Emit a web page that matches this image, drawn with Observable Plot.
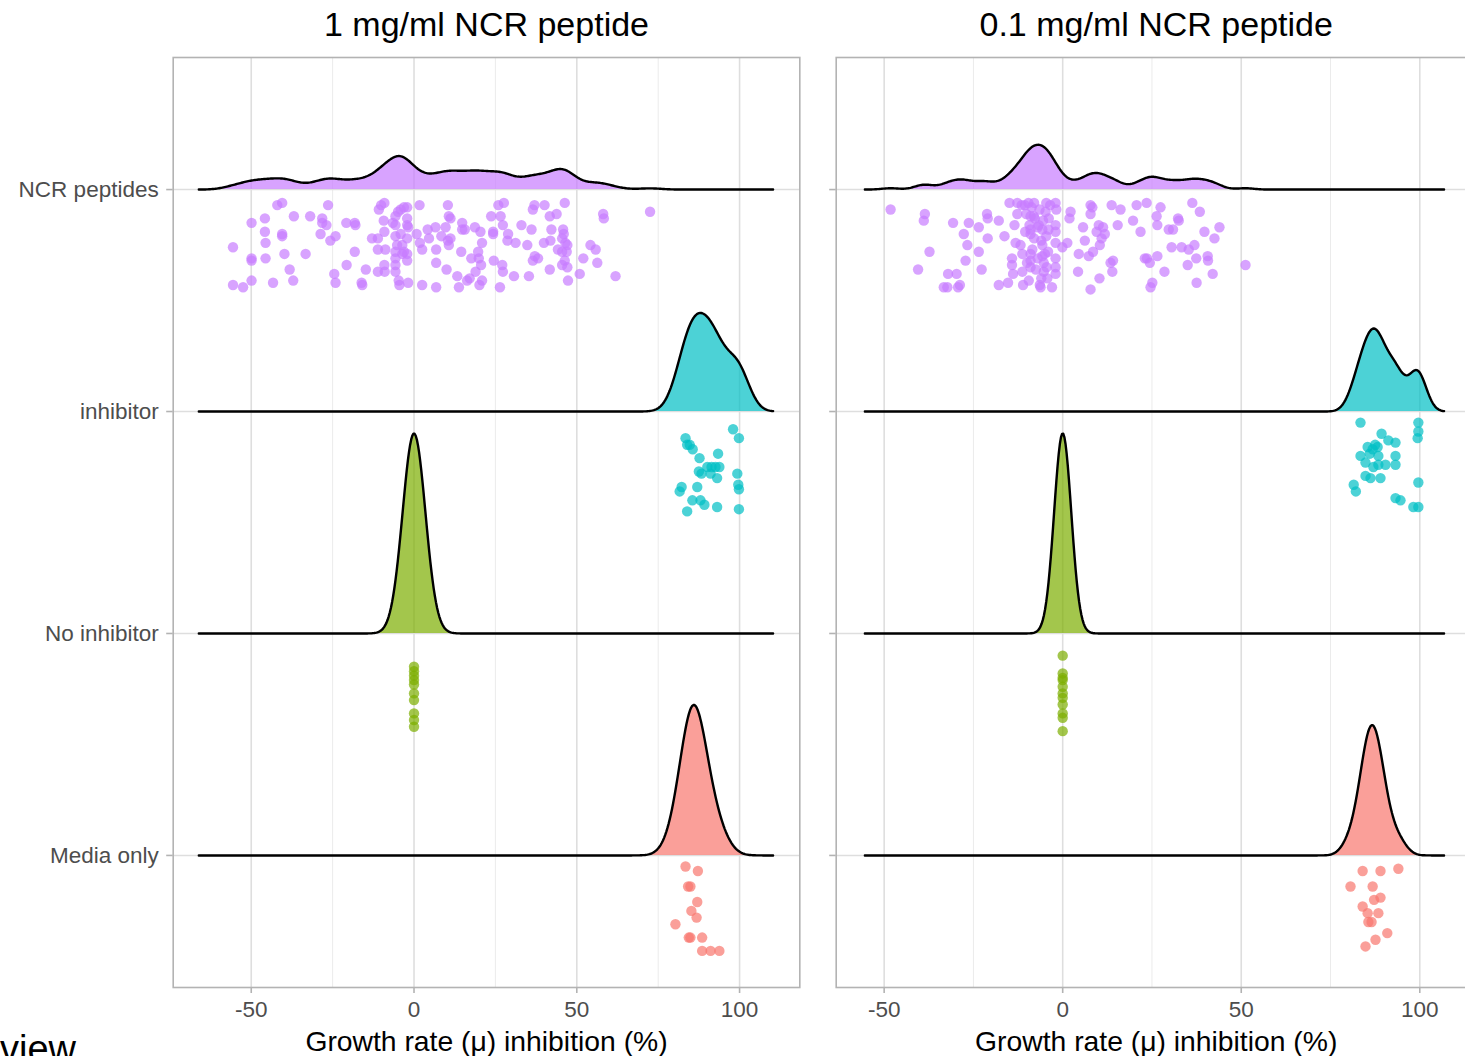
<!DOCTYPE html>
<html><head><meta charset="utf-8">
<script src="https://cdn.jsdelivr.net/npm/d3@7"></script>
<script src="https://cdn.jsdelivr.net/npm/@observablehq/plot@0.6"></script>
<style>
body{margin:0;background:#fff;}
#wrap{position:relative;width:1465px;height:1056px;overflow:hidden;font-family:"Liberation Sans",Arial,sans-serif;background:#fff;}
.panel{position:absolute;top:0;}
#view{position:absolute;left:0;top:1030px;font-size:38px;line-height:38px;color:#000;}
</style></head>
<body><div id="wrap"><div id="view">view</div></div>
<script>
// ---------- categories / labels ----------
const categories = ["Media only", "No inhibitor", "inhibitor", "NCR peptides"];
const colors = ["#F8766D", "#7CAE00", "#00BFC4", "#C77CFF"];
const panelTitles = ["1 mg/ml NCR peptide", "0.1 mg/ml NCR peptide"];
const xTitle = ["Growth rate (", "\u03bc", ") inhibition (%)"];
const xTicks = [-50, 0, 50, 100];
const xMinorTicks = [-25, 25, 75];

// ---------- data: [inhibition %, jitter below ridge baseline] ----------
// Panel 1: 1 mg/ml
const ncr1 = [[-55.6,.26],[-55.6,.43],[-52.5,.44],[-49.9,.15],[-49.9,.31],[-49.9,.32],[-49.9,.41],[-45.8,.13],[-45.8,.19],[-45.6,.24],[-45.6,.31],[-43.3,.42],[-42.0,.07],[-40.5,.06],[-40.5,.20],[-40.5,.21],[-39.8,.29],[-38.2,.36],[-37.1,.41],[-36.9,.12],[-33.3,.29],[-31.9,.12],[-28.7,.20],[-28.2,.13],[-28.2,.15],[-26.9,.16],[-26.4,.07],[-25.7,.23],[-24.1,.21],[-24.5,.38],[-24.1,.42],[-20.8,.15],[-20.7,.34],[-18.2,.15],[-18.0,.16],[-18.2,.28],[-16.1,.42],[-15.9,.43],[-14.8,.36],[-12.9,.22],[-11.1,.22],[-11.1,.27],[-10.8,.09],[-10.1,.07],[-9.1,.06],[-9.3,.14],[-9.1,.19],[-8.8,.27],[-9.1,.34],[-9.0,.37],[-11.1,.37],[-6.5,.15],[-5.7,.12],[-5.7,.16],[-5.7,.21],[-5.7,.28],[-5.7,.31],[-5.7,.34],[-5.7,.37],[-4.9,.10],[-4.7,.41],[-4.5,.43],[-4.1,.09],[-3.1,.08],[-2.1,.08],[-2.1,.13],[-2.1,.16],[-1.8,.17],[-4.1,.20],[-3.6,.25],[-2.1,.22],[-3.1,.28],[-3.6,.29],[-2.1,.29],[-2.1,.32],[-1.8,.42],[-5.2,.25],[0.8,.20],[1.7,.07],[1.8,.24],[2.5,.27],[2.5,.43],[4.2,.18],[4.6,.22],[6.6,.17],[6.8,.27],[6.8,.33],[6.8,.44],[8.4,.21],[9.7,.17],[10.0,.36],[10.4,.07],[10.7,.12],[11.2,.13],[10.4,.23],[10.7,.25],[11.2,.22],[13.3,.39],[13.8,.44],[14.5,.28],[14.8,.15],[14.8,.18],[15.6,.18],[16.3,.41],[17.1,.40],[17.6,.31],[18.7,.17],[19.7,.28],[19.9,.31],[20.4,.19],[20.6,.34],[18.9,.37],[20.9,.24],[20.9,.41],[20.1,.43],[23.7,.12],[24.3,.19],[24.3,.20],[24.5,.32],[25.9,.07],[26.6,.12],[27.6,.06],[27.3,.16],[27.1,.34],[27.3,.37],[26.4,.44],[28.9,.20],[28.7,.23],[30.7,.39],[31.2,.24],[33.0,.16],[34.8,.25],[35.3,.39],[36.1,.18],[36.5,.09],[37.0,.07],[36.5,.32],[37.1,.30],[38.1,.31],[40.1,.07],[39.9,.24],[41.7,.12],[41.9,.23],[42.2,.18],[41.7,.36],[43.8,.11],[44.2,.27],[45.8,.18],[46.0,.20],[46.3,.06],[45.5,.22],[46.5,.24],[47.1,.25],[45.5,.28],[46.9,.28],[46.3,.32],[45.5,.34],[47.1,.35],[47.3,.41],[50.9,.38],[52.0,.31],[54.2,.25],[55.8,.27],[56.3,.33],[58.1,.11],[58.3,.13],[61.9,.39],[72.5,.10]];
const inh1 = [[98.0,.08],[99.8,.12],[83.4,.12],[83.9,.15],[84.7,.15],[85.6,.17],[87.7,.21],[93.4,.19],[90.1,.25],[91.4,.25],[92.6,.25],[93.8,.25],[87.5,.27],[88.3,.28],[91.1,.28],[93.1,.30],[99.3,.28],[82.2,.34],[81.6,.36],[87.0,.34],[99.6,.33],[99.8,.35],[85.5,.40],[88.0,.40],[89.2,.42],[83.9,.45],[93.1,.43],[99.8,.44]];
const noinh1 = [[0,.15],[0,.17],[0,.19],[0,.21],[0,.23],[0,.27],[0,.30],[0,.36],[0,.39],[0,.42]];
const media1 = [[83.4,.05],[87.2,.07],[84.2,.14],[84.9,.14],[87.0,.21],[85.2,.25],[86.8,.28],[80.3,.31],[84.4,.37],[84.9,.37],[88.5,.37],[88.5,.43],[91.1,.43],[93.8,.43]];
// Panel 2: 0.1 mg/ml
const ncr2 = [[-48.2,.09],[-40.5,.36],[-38.6,.11],[-38.9,.14],[-37.3,.28],[-33.3,.44],[-32.3,.44],[-32.1,.38],[-30.7,.15],[-29.7,.38],[-29.3,.44],[-28.8,.43],[-27.7,.20],[-27.2,.32],[-26.7,.25],[-26.3,.15],[-23.5,.17],[-23.5,.28],[-22.7,.36],[-21.2,.11],[-21.0,.13],[-21.0,.22],[-17.9,.14],[-17.9,.43],[-16.3,.21],[-15.3,.42],[-14.9,.06],[-14.2,.31],[-14.2,.34],[-13.9,.38],[-13.5,.16],[-13.2,.24],[-12.7,.06],[-12.7,.11],[-11.8,.25],[-11.3,.29],[-11.3,.37],[-11.1,.43],[-10.6,.07],[-10.2,.11],[-9.6,.06],[-9.3,.16],[-9.0,.18],[-9.0,.20],[-9.0,.29],[-9.0,.32],[-9.0,.35],[-8.7,.08],[-8.1,.12],[-7.8,.13],[-6.7,.16],[-6.4,.43],[-6.2,.44],[-5.7,.18],[-5.7,.25],[-5.7,.30],[-5.3,.33],[-5.3,.37],[-4.8,.10],[-4.6,.06],[-4.6,.21],[-4.3,.40],[-4.1,.28],[-3.9,.13],[-3.0,.44],[-2.0,.06],[-1.8,.09],[-2.0,.16],[-2.0,.19],[-2.0,.24],[-2.0,.31],[-2.0,.35],[-2.0,.38],[-0.1,.26],[1.3,.24],[1.9,.13],[2.2,.10],[4.3,.37],[4.5,.29],[5.7,.17],[6.2,.23],[7.3,.30],[7.8,.45],[7.8,.07],[8.3,.08],[7.8,.11],[8.5,.28],[9.5,.19],[10.1,.16],[10.3,.40],[10.4,.25],[11.3,.17],[11.8,.20],[10.9,.22],[13.4,.33],[13.7,.07],[13.9,.37],[14.1,.32],[15.4,.16],[16.2,.09],[19.7,.14],[20.7,.07],[21.8,.19],[23.0,.31],[23.6,.31],[24.4,.33],[23.5,.06],[25.1,.42],[24.6,.44],[26.3,.12],[26.5,.16],[26.5,.30],[27.4,.08],[28.5,.37],[29.7,.18],[30.9,.18],[30.5,.26],[32.3,.13],[32.5,.14],[33.3,.26],[35.0,.34],[35.3,.27],[36.3,.06],[36.9,.25],[37.4,.31],[37.5,.42],[38.4,.10],[39.7,.19],[40.6,.30],[40.7,.32],[42.0,.38],[42.5,.22],[43.9,.17],[51.2,.34],
  [-11.5,.07],[-10.5,.19],[-10.0,.33],[-9.5,.41],[-9.0,.12],[-8.5,.27],[-8.0,.06],[-8.0,.22],[-7.5,.36],[-7.0,.17],[-7.0,.31],[-6.5,.09],[-6.0,.23],[-6.0,.40],[-5.5,.14],[-5.0,.29],[-4.5,.35],[-4.0,.18],[-3.5,.07]];
const inh2 = [[83.4,.05],[99.6,.05],[99.6,.09],[99.4,.12],[89.3,.10],[91.2,.13],[85.4,.16],[86.8,.17],[88.2,.16],[93.2,.14],[83.4,.20],[88.4,.20],[93.2,.20],[84.8,.23],[88.4,.24],[90.4,.24],[93.2,.24],[84.8,.29],[86.2,.30],[89.0,.30],[81.5,.33],[99.6,.32],[82.1,.36],[93.2,.39],[94.6,.40],[98.2,.43],[99.6,.43],[86.0,.19],[87.0,.25],[87.5,.15]];
const noinh2 = [[0,.10],[0,.18],[0,.20],[0,.21],[0,.24],[0,.27],[0,.29],[0,.32],[0,.36],[0,.38],[0,.44]];
const media2 = [[84.0,.07],[89.0,.07],[94.0,.06],[80.6,.14],[86.8,.14],[89.0,.19],[84.0,.23],[85.4,.26],[88.4,.26],[85.6,.30],[90.9,.35],[87.6,.38],[84.8,.41],[86.5,.30],[87.2,.20]];

// scale settings
const xDomains = [[-73.97, 118.5], [-63.43, 115.8]];
const bandwidths = [3.5, 2.4];
const ridgeScale = 0.9;

const panels = [
  {groups: [media1, noinh1, inh1, ncr1], left: 0, width: 817, mL: 172.7, mR: 17.7, labels: true},
  {groups: [media2, noinh2, inh2, ncr2], left: 817, width: 660, mL: 18.7, mR: 1.3, labels: false}
];

function kde(xs, bw, grid) {
  const c = 1 / (xs.length * bw * Math.sqrt(2 * Math.PI));
  return grid.map(g => c * d3.sum(xs, x => Math.exp(-0.5 * ((g - x) / bw) ** 2)));
}

const wrap = document.getElementById("wrap");
panels.forEach((P, p) => {
  const bw = bandwidths[p];
  const all = P.groups.flat().map(d => d[0]);
  const lo = d3.min(all) - 3 * bw, hi = d3.max(all) + 3 * bw;
  const grid = d3.range(512).map(k => lo + (hi - lo) * k / 511);
  const dens = P.groups.map(g => kde(g.map(d => d[0]), bw, grid));
  const maxD = d3.max(dens.flat());
  const ridgeMarks = [];
  for (let ci = 3; ci >= 0; ci--) {
    const rows = grid.map((x, k) => ({x, y0: ci, y1: ci + dens[ci][k] / maxD * ridgeScale}));
    ridgeMarks.push(Plot.areaY(rows, {x: "x", y1: "y0", y2: "y1", fill: colors[ci], fillOpacity: 0.7}));
    ridgeMarks.push(Plot.lineY(rows, {x: "x", y: "y1", stroke: "#000", strokeWidth: 2.4}));
  }
  const points = P.groups.flatMap((g, ci) => g.map(([x, j]) => ({x, y: ci - j, cat: categories[ci]})));

  const svg = Plot.plot({
    width: P.width, height: 1056,
    marginLeft: P.mL, marginRight: P.mR, marginTop: 57, marginBottom: 69,
    style: {fontFamily: "'Liberation Sans', Arial, sans-serif", fontSize: "22.5px", background: "transparent", overflow: "visible"},
    x: {domain: xDomains[p]},
    y: {domain: [-0.595, 3.595]},
    color: {domain: categories, range: colors},
    marks: [
      Plot.gridX(xMinorTicks, {stroke: "#EBEBEB", strokeOpacity: 1, strokeWidth: 1}),
      Plot.gridX(xTicks, {stroke: "#DEDEDE", strokeOpacity: 1, strokeWidth: 1.6}),
      Plot.gridY([0, 1, 2, 3], {stroke: "#DEDEDE", strokeOpacity: 1, strokeWidth: 1.6}),
      ...ridgeMarks,
      Plot.dot(points, {x: "x", y: "y", r: 5.2, fill: "cat", fillOpacity: 0.7, stroke: "none"}),
      Plot.frame({stroke: "#B3B3B3", strokeWidth: 1.6}),
      Plot.axisX(xTicks, {tickSize: 6, tickPadding: 8, fontSize: 22.5, stroke: "#B3B3B3", fill: "#4D4D4D", strokeWidth: 1.6, label: null,
        tickFormat: d => String(d)}),
      Plot.axisY([0, 1, 2, 3], {tickSize: 6.5, tickPadding: 8, fontSize: 22.5, stroke: "#B3B3B3", fill: "#4D4D4D", strokeWidth: 1.6, label: null,
        tickFormat: P.labels ? (i => categories[i]) : (() => "")}),
      Plot.text([panelTitles[p]], {frameAnchor: "top", dy: -32, fontSize: 34, fill: "#000", lineAnchor: "middle"}),
      Plot.text([xTitle.join("")], {frameAnchor: "bottom", dy: 54, fontSize: 28.3, fill: "#000", lineAnchor: "middle", ariaLabel: "xtitle"})
    ]
  });
  // render mu in a serif face, as in the original
  const t = svg.querySelector('g[aria-label="xtitle"] text');
  if (t) {
    t.textContent = "";
    xTitle.forEach((s, i) => {
      const ts = document.createElementNS("http://www.w3.org/2000/svg", "tspan");
      ts.textContent = s;
      if (i === 1) ts.setAttribute("font-family", "'Liberation Serif', 'DejaVu Serif', serif");
      t.appendChild(ts);
    });
  }
  svg.classList.add("panel");
  svg.style.left = P.left + "px";
  svg.style.position = "absolute";
  wrap.appendChild(svg);
});
</script>
</body></html>
